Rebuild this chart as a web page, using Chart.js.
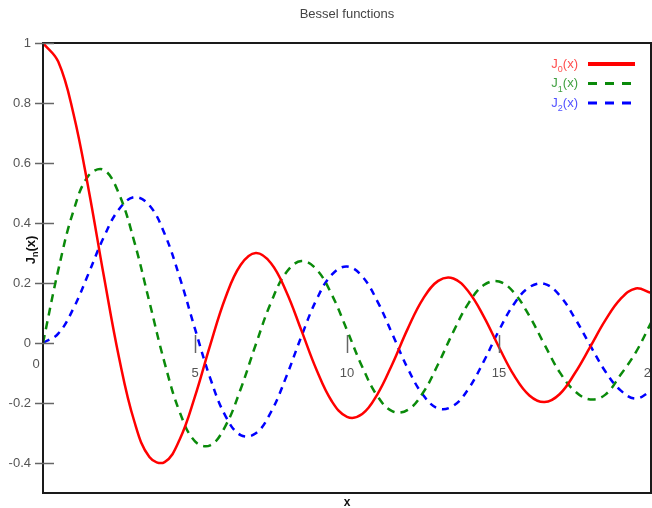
<!DOCTYPE html>
<html>
<head>
<meta charset="utf-8">
<script src="https://cdn.jsdelivr.net/npm/chart.js@4.4.1/dist/chart.umd.min.js"></script>
<style>
  html, body { margin: 0; padding: 0; background: #fff; }
  #wrap { width: 652px; height: 508px; }
</style>
</head>
<body>
<div id="wrap"><canvas id="besselChart" width="652" height="508"></canvas></div>
<script>
// x values (step 0.5)
const xs = [0, 0.5, 1, 1.5, 2, 2.5, 3, 3.5, 4, 4.5, 5, 5.5, 6, 6.5, 7, 7.5, 8, 8.5, 9, 9.5,
            10, 10.5, 11, 11.5, 12, 12.5, 13, 13.5, 14, 14.5, 15, 15.5, 16, 16.5, 17, 17.5, 18, 18.5, 19, 19.5, 20];

// J0(x), J1(x), J2(x)
const j0 = [1, 0.938, 0.765, 0.512, 0.224, -0.048, -0.260, -0.380, -0.397, -0.321, -0.178, -0.007, 0.151, 0.260, 0.300, 0.266, 0.172, 0.042, -0.090, -0.194,
            -0.246, -0.237, -0.171, -0.068, 0.048, 0.147, 0.207, 0.215, 0.171, 0.088, -0.014, -0.109, -0.175, -0.197, -0.170, -0.100, -0.013, 0.076, 0.147, 0.182, 0.167];
const j1 = [0, 0.242, 0.440, 0.558, 0.577, 0.497, 0.339, 0.137, -0.066, -0.231, -0.328, -0.341, -0.277, -0.154, -0.005, 0.135, 0.235, 0.273, 0.245, 0.161,
            0.043, -0.079, -0.177, -0.228, -0.223, -0.166, -0.070, 0.038, 0.133, 0.193, 0.205, 0.167, 0.090, -0.006, -0.098, -0.161, -0.188, -0.172, -0.106, -0.031, 0.067];
const j2 = [0, 0.031, 0.115, 0.232, 0.353, 0.446, 0.486, 0.459, 0.364, 0.218, 0.047, -0.117, -0.243, -0.307, -0.301, -0.230, -0.113, 0.022, 0.145, 0.228,
            0.255, 0.222, 0.139, 0.028, -0.085, -0.173, -0.218, -0.209, -0.152, -0.061, 0.042, 0.131, 0.186, 0.197, 0.158, 0.082, -0.008, -0.095, -0.158, -0.185, -0.160];

const yTicks = [-0.4, -0.2, 0, 0.2, 0.4, 0.6, 0.8, 1];
const yTickLabels = ['-0.4', '-0.2', '0', '0.2', '0.4', '0.6', '0.8', '1'];
const xTicks = [0, 5, 10, 15, 20];

const seriesNames = ['0', '1', '2'];
const lineColors = ['#ff0000', '#0a8a0a', '#0000ff'];
const textColors = ['#ff4d4d', '#3f9f3f', '#5050ff'];
const dashes = [[], [8, 6], [7, 6]];

const FONT = '"Liberation Sans", Arial, sans-serif';

function toPoints(ys) {
    return xs.map((x, i) => ({ x: x, y: ys[i] }));
}

// frame, tick marks, titles, legend
const decorPlugin = {
    id: 'decor',
    afterDraw(chart) {
        const ctx = chart.ctx;
        const a = chart.chartArea;
        const xs_ = chart.scales.x;
        const ys_ = chart.scales.y;
        const y0 = ys_.getPixelForValue(0);
        ctx.save();

        // frame
        ctx.strokeStyle = '#1a1a1a';
        ctx.lineWidth = 2;
        ctx.strokeRect(a.left, a.top, a.right - a.left, a.bottom - a.top);

        // y tick marks crossing the axis
        ctx.strokeStyle = '#666';
        ctx.lineWidth = 1.5;
        yTicks.forEach(v => {
            const py = Math.round(ys_.getPixelForValue(v)) + 0.5;
            ctx.beginPath();
            ctx.moveTo(a.left - 8, py);
            ctx.lineTo(a.left + 11, py);
            ctx.stroke();
        });
        // x tick marks on the zero line
        xTicks.forEach(v => {
            if (v === 0 || v === 20) return;
            const px = Math.round(xs_.getPixelForValue(v)) + 0.5;
            ctx.beginPath();
            ctx.moveTo(px, y0 - 8);
            ctx.lineTo(px, y0 + 10);
            ctx.stroke();
        });

        // x label "0"
        ctx.fillStyle = '#555';
        ctx.font = '13px ' + FONT;
        ctx.textAlign = 'center';
        ctx.textBaseline = 'middle';
        ctx.fillText('0', xs_.getPixelForValue(0) - 7, y0 + 21);

        // title
        ctx.fillStyle = '#444';
        ctx.font = '13px ' + FONT;
        ctx.fillText('Bessel functions', (a.left + a.right) / 2, 14);

        // x axis title
        ctx.fillStyle = '#111';
        ctx.font = 'bold 12px ' + FONT;
        ctx.fillText('x', (a.left + a.right) / 2, 503);

        // y axis title J_n(x)
        ctx.save();
        ctx.translate(31, 250);
        ctx.rotate(-Math.PI / 2);
        ctx.textAlign = 'left';
        ctx.font = 'bold 13px ' + FONT;
        const wJ = ctx.measureText('J').width;
        ctx.font = 'bold 9px ' + FONT;
        const wn = ctx.measureText('n').width;
        ctx.font = 'bold 13px ' + FONT;
        const wx = ctx.measureText('(x)').width;
        let sx = -(wJ + wn + wx) / 2;
        ctx.fillText('J', sx, 0);
        ctx.font = 'bold 9px ' + FONT;
        ctx.fillText('n', sx + wJ, 5);
        ctx.font = 'bold 13px ' + FONT;
        ctx.fillText('(x)', sx + wJ + wn, 0);
        ctx.restore();

        // legend
        seriesNames.forEach((n, i) => {
            const ly = 64 + i * 19.5;
            const right = 578;
            ctx.textBaseline = 'middle';
            ctx.textAlign = 'left';
            ctx.font = '13px ' + FONT;
            const w1 = ctx.measureText('(x)').width;
            ctx.font = '9px ' + FONT;
            const w2 = ctx.measureText(n).width;
            ctx.font = '13px ' + FONT;
            const w3 = ctx.measureText('J').width;
            const start = right - w1 - w2 - w3;
            ctx.fillStyle = textColors[i];
            ctx.fillText('J', start, ly);
            ctx.font = '9px ' + FONT;
            ctx.fillText(n, start + w3, ly + 6);
            ctx.font = '13px ' + FONT;
            ctx.fillText('(x)', start + w3 + w2, ly);

            ctx.strokeStyle = lineColors[i];
            ctx.lineWidth = i === 0 ? 4 : 3;
            ctx.setLineDash(i === 0 ? [] : [9, 8]);
            ctx.beginPath();
            ctx.moveTo(588, ly);
            ctx.lineTo(635, ly);
            ctx.stroke();
            ctx.setLineDash([]);
        });

        ctx.restore();
    }
};

const ctx = document.getElementById('besselChart').getContext('2d');
new Chart(ctx, {
    type: 'line',
    data: {
        datasets: [j0, j1, j2].map((ys, i) => ({
            label: 'J' + seriesNames[i] + '(x)',
            data: toPoints(ys),
            borderColor: lineColors[i],
            borderWidth: 2.5,
            borderDash: dashes[i],
            pointRadius: 0,
            tension: 0.4,
            fill: false
        }))
    },
    options: {
        responsive: false,
        animation: false,
        layout: { padding: { left: 0, top: 43, right: 1, bottom: 15 } },
        plugins: {
            legend: { display: false },
            title: { display: false },
            tooltip: { enabled: false }
        },
        scales: {
            x: {
                type: 'linear',
                position: { y: 0 },
                min: 0,
                max: 20,
                grid: { display: false },
                border: { display: false },
                afterBuildTicks: s => { s.ticks = xTicks.map(v => ({ value: v })); },
                afterFit: s => {
                    s.paddingLeft = 0; s.paddingRight = 0;
                    s.paddingTop = 0; s.paddingBottom = 0;
                },
                ticks: {
                    padding: 15,
                    maxRotation: 0,
                    color: '#555',
                    font: { family: FONT, size: 13 },
                    callback: v => (v === 0 ? '' : String(v))
                }
            },
            y: {
                type: 'linear',
                min: -0.5,
                max: 1,
                grid: { display: false },
                border: { display: false },
                afterBuildTicks: s => { s.ticks = yTicks.map(v => ({ value: v })); },
                afterFit: s => {
                    s.width = 43;
                    s.paddingTop = 0; s.paddingBottom = 0;
                },
                ticks: {
                    padding: 4,
                    color: '#555',
                    font: { family: FONT, size: 13 },
                    callback: v => yTickLabels[yTicks.indexOf(Math.round(v * 10) / 10)]
                }
            }
        }
    },
    plugins: [decorPlugin]
});
</script>
</body>
</html>
